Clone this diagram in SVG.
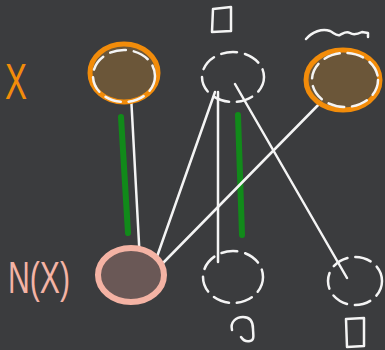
<svg xmlns="http://www.w3.org/2000/svg" width="385" height="350" viewBox="0 0 385 350">
<defs>
<style>
.chalk{fill:none;stroke:#f4f4f4;stroke-width:2.5;stroke-linecap:round;stroke-linejoin:round}
.dash{fill:none;stroke:#f4f4f4;stroke-width:2.5;stroke-dasharray:16 8;stroke-linecap:round}
.green{stroke:#118a1a;stroke-width:6;stroke-linecap:round}
.lbl{font-family:"Liberation Sans",Arial,sans-serif;font-weight:normal}
</style>
</defs>
<rect width="385" height="350" fill="#3b3c3e"/>
<g id="connectors">
<line class="green" x1="121" y1="117" x2="128" y2="233"/>
<line class="green" x1="238" y1="115" x2="242" y2="235"/>
<line class="chalk" x1="131" y1="95" x2="140" y2="262"/>
<line class="chalk" x1="215" y1="92" x2="153" y2="268"/>
<line class="chalk" x1="218" y1="92" x2="218" y2="262"/>
<line class="chalk" x1="235" y1="84" x2="347" y2="278"/>
<line class="chalk" x1="325" y1="98" x2="162" y2="264"/>
</g>
<g id="x-label"><text class="lbl" x="5" y="99" font-size="50" fill="#f28c0a" textLength="22" lengthAdjust="spacingAndGlyphs">X</text></g>
<g id="nx-label"><text class="lbl" x="8" y="293" font-size="44" fill="#f4b3a4" textLength="62" lengthAdjust="spacingAndGlyphs">N(X)</text></g>
<g id="top-left">
<ellipse cx="124" cy="73" rx="34" ry="29" fill="#6b5639" stroke="#f28c0a" stroke-width="5"/>
<ellipse class="dash" cx="124" cy="76" rx="31" ry="26"/>
</g>
<g id="top-mid">
<ellipse class="dash" cx="233" cy="77" rx="31" ry="25"/>
<path class="chalk" d="M213 9 L231 7 L231 31 L212 32 Z"/>
</g>
<g id="top-right">
<ellipse cx="343" cy="80" rx="37" ry="30" fill="#6b5639" stroke="#f28c0a" stroke-width="5"/>
<ellipse class="dash" cx="345" cy="80" rx="33" ry="27"/>
<path class="chalk" d="M306 39 C312 32 322 28 330 31 C334 33 336 36 340 35 C344 33 346 31 350 33 C353 35 356 35 362 32 L368 33 L368 37"/>
</g>
<g id="bot-left">
<ellipse cx="131" cy="275" rx="33" ry="27" fill="#6a5856" stroke="#f4b3a4" stroke-width="6"/>
</g>
<g id="bot-mid">
<ellipse class="dash" cx="233" cy="277" rx="30" ry="26"/>
<path class="chalk" d="M232 330 C230 322 236 317 243 317 C251 317 253 322 253 329 C253 334 255 340 250 341 C246 342 243 340 241 337"/>
</g>
<g id="bot-right">
<ellipse class="dash" cx="355" cy="281" rx="27" ry="24"/>
<path class="chalk" d="M346 319 L364 318 L364 346 L347 347 Z"/>
</g>
</svg>
